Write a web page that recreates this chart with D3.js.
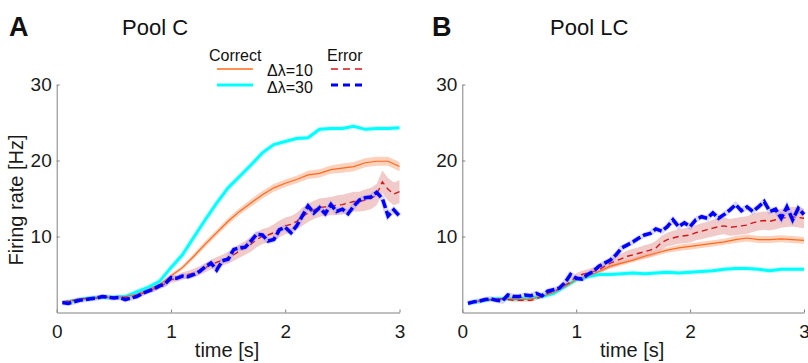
<!DOCTYPE html>
<html>
<head>
<meta charset="utf-8">
<script src="https://cdn.jsdelivr.net/npm/d3@7"></script>
<style>
body { margin: 0; background: #fff; }
svg { display: block; font-family: "Liberation Sans", Arial, sans-serif; }
</style>
</head>
<body>
<div id="chart"></div>
<script>
// time grids [s]
const timeCoarse = [0.05, 0.1, 0.2, 0.3, 0.4, 0.5, 0.6, 0.7, 0.8, 0.9, 1.0, 1.1, 1.2, 1.3, 1.4, 1.5, 1.6, 1.7, 1.8, 1.9, 2.0, 2.1, 2.2, 2.3, 2.4, 2.5, 2.6, 2.7, 2.8, 2.9, 3.0]
const timeFine = [0.05, 0.1, 0.15, 0.2, 0.25, 0.3, 0.35, 0.4, 0.45, 0.5, 0.55, 0.6, 0.65, 0.7, 0.75, 0.8, 0.85, 0.9, 0.95, 1.0,
    1.05, 1.1, 1.15, 1.2, 1.25, 1.3, 1.35, 1.4, 1.45, 1.5, 1.55, 1.6, 1.65, 1.7, 1.75, 1.8, 1.85, 1.9, 1.95, 2.0,
    2.05, 2.1, 2.15, 2.2, 2.25, 2.3, 2.35, 2.4, 2.45, 2.5, 2.55, 2.6, 2.65, 2.7, 2.75, 2.8, 2.85, 2.9, 2.95, 3.0]

// Pool C
const correct10C = [1.4, 1.5, 1.8, 1.9, 2.0, 2.0, 2.1, 2.4, 3.0, 3.7, 4.8, 5.9, 7.4, 9.0, 10.5, 12.0, 13.3, 14.4, 15.5, 16.4, 17.0, 17.5, 18.1, 18.3, 18.8, 19.0, 19.2, 19.7, 19.9, 19.9, 19.2]
const correct10CSem = [0.1, 0.1, 0.1, 0.1, 0.1, 0.1, 0.1, 0.15, 0.2, 0.2, 0.3, 0.3, 0.35, 0.4, 0.4, 0.45, 0.45, 0.5, 0.5, 0.5, 0.5, 0.5, 0.55, 0.55, 0.55, 0.6, 0.6, 0.6, 0.6, 0.6, 0.6]
const correct30C = [1.3, 1.4, 1.7, 1.9, 2.0, 2.0, 2.1, 2.7, 3.3, 4.1, 5.9, 7.6, 9.9, 12.2, 14.4, 16.4, 17.9, 19.4, 21.0, 22.1, 22.5, 22.9, 23.0, 24.1, 24.2, 24.2, 24.5, 24.1, 24.2, 24.2, 24.3]
const error10C = [1.4, 1.5, 1.6, 1.8, 1.8, 1.9, 1.9, 2.0, 2.0, 1.9,
    1.9, 2.0, 2.0, 2.2, 2.5, 2.8, 3.1, 3.4, 3.8, 4.3,
    4.5, 4.8, 5.0, 5.2, 5.5, 5.9, 6.3, 6.6, 6.9, 7.2,
    7.6, 8.1, 8.5, 9.0, 9.6, 10.0, 10.2, 10.5, 11.0, 11.4,
    11.6, 12.0, 12.6, 13.1, 13.5, 13.8, 13.9, 14.0, 14.1, 14.2,
    14.4, 14.6, 14.6, 14.8, 15.0, 15.5, 17.2, 16.2, 15.6, 15.9]
const error10CSem = [0.2, 0.2, 0.2, 0.2, 0.2, 0.2, 0.2, 0.2, 0.2, 0.2,
    0.2, 0.2, 0.2, 0.3, 0.3, 0.3, 0.35, 0.35, 0.4, 0.4,
    0.45, 0.5, 0.5, 0.55, 0.6, 0.6, 0.65, 0.7, 0.7, 0.8,
    0.8, 0.9, 0.9, 1.0, 1.0, 1.0, 1.0, 1.1, 1.1, 1.1,
    1.1, 1.1, 1.2, 1.2, 1.2, 1.2, 1.2, 1.2, 1.3, 1.3,
    1.3, 1.3, 1.3, 1.4, 1.4, 1.4, 1.5, 1.5, 1.5, 1.5]
const error30C = [1.3, 1.2, 1.4, 1.6, 1.7, 1.8, 1.9, 2.1, 2.0, 1.9,
    2.0, 1.7, 1.9, 2.1, 2.5, 2.8, 3.1, 3.5, 3.8, 4.6,
    4.5, 4.8, 4.7, 5.0, 5.4, 6.0, 6.5, 5.6, 6.8, 7.0,
    8.3, 8.5, 8.6, 9.4, 10.3, 10.2, 9.4, 9.6, 10.9, 11.2,
    10.5, 11.4, 12.7, 14.0, 13.1, 13.8, 13.0, 14.2, 13.3, 13.6,
    13.0, 14.0, 14.8, 15.1, 15.2, 15.8, 15.0, 12.7, 13.5, 12.7]

// Pool LC
const correct10LC = [1.3, 1.4, 1.6, 1.8, 1.8, 1.7, 1.8, 2.1, 2.6, 3.4, 4.3, 4.7, 5.4, 6.1, 6.5, 6.9, 7.4, 7.8, 8.2, 8.5, 8.7, 8.9, 9.1, 9.3, 9.6, 9.8, 9.6, 9.6, 9.7, 9.6, 9.5]
const correct10LCSem = [0.1, 0.1, 0.1, 0.1, 0.1, 0.1, 0.1, 0.1, 0.15, 0.2, 0.2, 0.25, 0.25, 0.3, 0.3, 0.3, 0.35, 0.35, 0.35, 0.4, 0.4, 0.4, 0.4, 0.4, 0.45, 0.45, 0.45, 0.45, 0.45, 0.45, 0.45]
const correct30LC = [1.2, 1.4, 1.6, 1.8, 1.8, 1.8, 1.9, 2.1, 2.5, 3.4, 4.3, 4.7, 5.0, 5.0, 5.1, 5.2, 5.1, 5.2, 5.3, 5.2, 5.3, 5.4, 5.5, 5.7, 5.8, 5.8, 5.7, 5.5, 5.7, 5.7, 5.7]
const error10LC = [1.3, 1.4, 1.5, 1.6, 1.7, 1.8, 1.8, 1.7, 1.6, 1.6,
    1.6, 1.6, 1.8, 2.1, 2.5, 2.8, 3.1, 3.6, 4.0, 4.7,
    5.0, 5.2, 5.4, 5.6, 6.1, 6.5, 6.8, 7.1, 7.4, 7.6,
    7.8, 8.0, 8.2, 8.5, 9.2, 9.6, 9.8, 10.0, 10.1, 10.2,
    10.5, 10.7, 10.9, 11.1, 11.3, 11.4, 11.2, 11.3, 11.4, 11.5,
    11.8, 12.0, 12.1, 12.0, 12.2, 12.4, 12.5, 12.6, 12.5, 12.4]
const error10LCSem = [0.2, 0.2, 0.2, 0.2, 0.2, 0.2, 0.2, 0.2, 0.2, 0.2,
    0.2, 0.2, 0.2, 0.25, 0.3, 0.3, 0.35, 0.4, 0.4, 0.45,
    0.5, 0.5, 0.55, 0.6, 0.6, 0.65, 0.7, 0.7, 0.75, 0.8,
    0.8, 0.85, 0.85, 0.9, 0.9, 0.9, 0.95, 0.95, 1.0, 1.0,
    1.0, 1.05, 1.05, 1.1, 1.1, 1.1, 1.1, 1.15, 1.15, 1.15,
    1.2, 1.2, 1.2, 1.2, 1.25, 1.25, 1.25, 1.3, 1.3, 1.3]
const error30LC = [1.2, 1.4, 1.5, 1.7, 1.8, 1.6, 1.5, 2.3, 2.1, 2.1,
    2.3, 2.2, 2.5, 2.2, 2.8, 3.0, 3.2, 3.9, 5.0, 4.5,
    4.4, 5.0, 5.4, 6.1, 6.5, 6.9, 7.6, 8.5, 8.9, 9.3,
    9.8, 10.2, 10.4, 11.0, 10.7, 11.3, 12.2, 11.3, 11.8, 11.3,
    12.2, 12.6, 12.4, 13.1, 12.4, 12.9, 13.5, 14.2, 13.4, 13.9,
    13.3, 13.9, 14.6, 13.3, 13.6, 12.4, 13.9, 12.2, 13.7, 12.9]

const xTicks = [0, 1, 2, 3]
const yTicks = [10, 20, 30]

const width = 808
const height = 363

const svg = d3.select("#chart").append("svg")
    .attr("width", width)
    .attr("height", height)

function drawPanel(opts) {
    const xScale = d3.scaleLinear()
        .domain([0, 3])
        .range(opts.xRange)
    const yScale = d3.scaleLinear()
        .domain([0, 30])
        .range([312.5, 84.5])

    const g = svg.append("g")

    const line = d3.line()
        .x(d => xScale(d[0]))
        .y(d => yScale(d[1]))
    const band = d3.area()
        .x(d => xScale(d[0]))
        .y0(d => yScale(d[1] - d[2]))
        .y1(d => yScale(d[1] + d[2]))

    const c10 = d3.zip(timeCoarse, opts.correct10, opts.correct10Sem)
    const c30 = d3.zip(timeCoarse, opts.correct30)
    const e10 = d3.zip(timeFine, opts.error10, opts.error10Sem)
    const e30 = d3.zip(timeFine, opts.error30)

    // sem bands
    g.append("path")
        .attr("d", band(c10))
        .style("fill", "#fcc2a6")
        .style("opacity", 0.75)
    g.append("path")
        .attr("d", band(e10))
        .style("fill", "#e8a6a6")
        .style("opacity", 0.6)

    // Δλ=30 correct
    g.append("path")
        .attr("d", line(c30))
        .style("fill", "none")
        .style("stroke", "#8ff")
        .style("stroke-width", 5)
        .style("opacity", 0.4)
    g.append("path")
        .attr("d", line(c30))
        .style("fill", "none")
        .style("stroke", "#00ffff")
        .style("stroke-width", 3)

    // Δλ=10 correct
    g.append("path")
        .attr("d", line(c10))
        .style("fill", "none")
        .style("stroke", "#ff6a1a")
        .style("stroke-width", 1.2)

    // Δλ=10 error
    g.append("path")
        .attr("d", line(e10))
        .style("fill", "none")
        .style("stroke", "#d01818")
        .style("stroke-width", 1.4)
        .style("stroke-dasharray", "6,4")

    // Δλ=30 error
    g.append("path")
        .attr("d", line(e30))
        .style("fill", "none")
        .style("stroke", "#8080ff")
        .style("stroke-width", 5.5)
        .style("opacity", 0.3)
    g.append("path")
        .attr("d", line(e30))
        .style("fill", "none")
        .style("stroke", "#0000ff")
        .style("stroke-width", 3.5)
        .style("stroke-dasharray", "9,3")

    // axes
    const xAxis = g.append("g")
        .attr("transform", "translate(0," + yScale(0) + ")")
        .call(d3.axisBottom(xScale).tickValues(xTicks).tickFormat(d3.format("d"))
            .tickSizeInner(-3).tickSizeOuter(0).tickPadding(12))
    const yAxis = g.append("g")
        .attr("transform", "translate(" + xScale(0) + ",0)")
        .call(d3.axisLeft(yScale).tickValues(yTicks).tickFormat(d3.format("d"))
            .tickSizeInner(-3).tickSizeOuter(0).tickPadding(5))

    ;[xAxis, yAxis].forEach(ax => {
        ax.select(".domain").attr("stroke", "#808080")
        ax.selectAll(".tick line").attr("stroke", "#808080")
        ax.selectAll(".tick text")
            .attr("fill", "#1a1a1a")
            .style("font-size", "19px")
            .style("font-family", "'Liberation Sans', Arial, sans-serif")
    })

    g.append("text")
        .attr("x", (xScale(0) + xScale(3)) / 2 - 1)
        .attr("y", 357)
        .attr("text-anchor", "middle")
        .style("font-size", "20px")
        .style("fill", "#1a1a1a")
        .text("time [s]")

    g.append("text")
        .attr("x", opts.letterX)
        .attr("y", 36)
        .style("font-size", "27px")
        .style("font-weight", "bold")
        .style("fill", "#111")
        .text(opts.letter)

    g.append("text")
        .attr("x", opts.titleX)
        .attr("y", 35)
        .style("font-size", "22px")
        .style("fill", "#111")
        .text(opts.title)

    return { xScale, yScale, g }
}

drawPanel({
    xRange: [56.7, 399.5],
    correct10: correct10C, correct10Sem: correct10CSem,
    correct30: correct30C,
    error10: error10C, error10Sem: error10CSem,
    error30: error30C,
    letter: "A", letterX: 9,
    title: "Pool C", titleX: 122
})

drawPanel({
    xRange: [462.3, 804],
    correct10: correct10LC, correct10Sem: correct10LCSem,
    correct30: correct30LC,
    error10: error10LC, error10Sem: error10LCSem,
    error30: error30LC,
    letter: "B", letterX: 432,
    title: "Pool LC", titleX: 550
})

// y label (panel A only)
svg.append("text")
    .attr("transform", "translate(23,200) rotate(-90)")
    .attr("text-anchor", "middle")
    .style("font-size", "20px")
    .style("fill", "#1a1a1a")
    .text("Firing rate [Hz]")

// legend
const legend = svg.append("g")
    .style("font-size", "16px")
    .style("fill", "#111")
legend.append("text").attr("x", 209).attr("y", 61).text("Correct")
legend.append("text").attr("x", 327).attr("y", 61).text("Error")
legend.append("text").attr("x", 267).attr("y", 76).text("Δλ=10")
legend.append("text").attr("x", 267).attr("y", 93).text("Δλ=30")
legend.append("line")
    .attr("x1", 217).attr("x2", 253).attr("y1", 69).attr("y2", 69)
    .style("stroke", "#ff6a1a").style("stroke-width", 1.5)
legend.append("line")
    .attr("x1", 217).attr("x2", 253).attr("y1", 85).attr("y2", 85)
    .style("stroke", "#00ffff").style("stroke-width", 3)
legend.append("line")
    .attr("x1", 331).attr("x2", 362).attr("y1", 69).attr("y2", 69)
    .style("stroke", "#d01818").style("stroke-width", 1.5)
    .style("stroke-dasharray", "7,5")
legend.append("line")
    .attr("x1", 331).attr("x2", 362).attr("y1", 85).attr("y2", 85)
    .style("stroke", "#0000ff").style("stroke-width", 3)
    .style("stroke-dasharray", "7,5")
</script>
</body>
</html>
